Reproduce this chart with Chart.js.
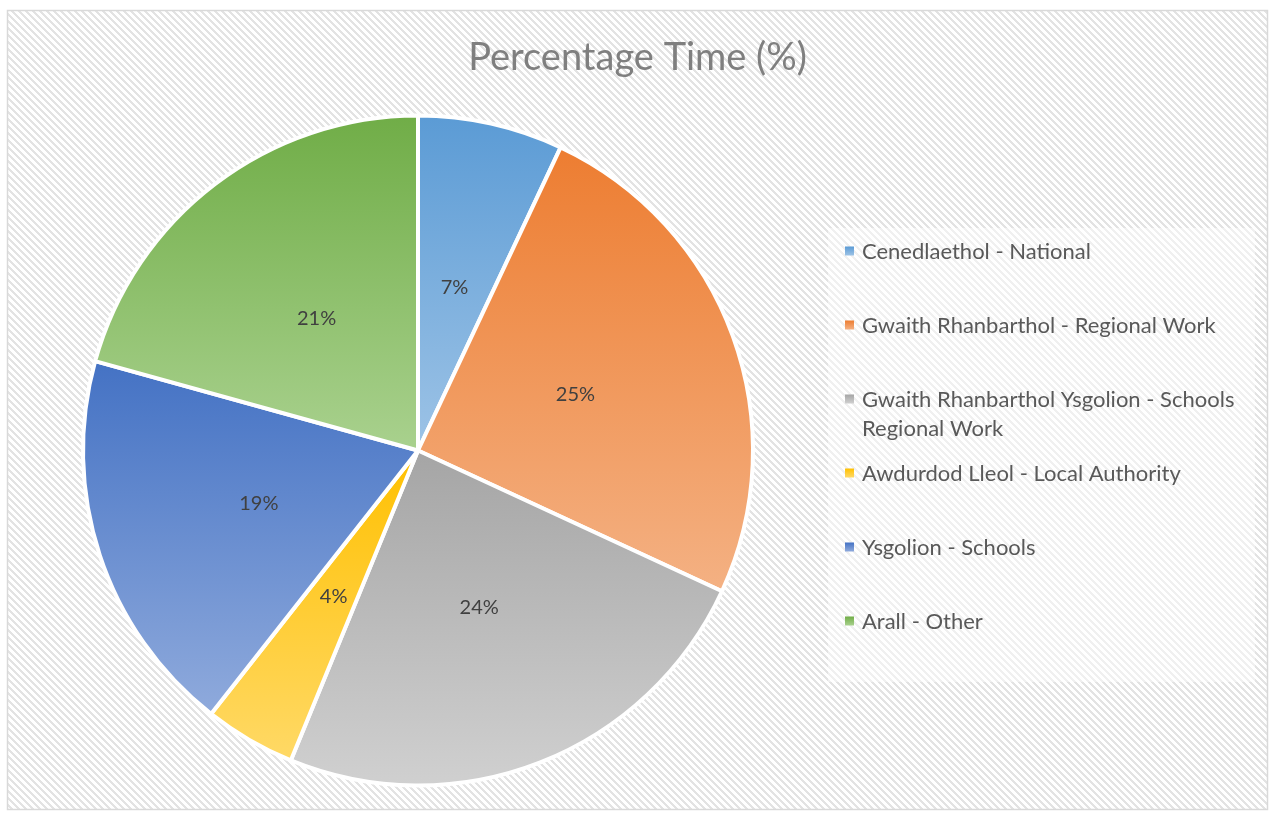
<!DOCTYPE html>
<html>
<head>
<meta charset="utf-8">
<script src="https://cdn.jsdelivr.net/npm/chart.js@4.4.1/dist/chart.umd.min.js"></script>
<style>
html,body{margin:0;padding:0;background:#fff;}
#wrap{width:1271px;height:814px;position:relative;}
</style>
</head>
<body>
<div id="wrap"><canvas id="c"></canvas></div>
<script>
// ---- data ----
const chartTitle = 'Percentage Time (%)';
const categories = [
  'Cenedlaethol - National',
  'Gwaith Rhanbarthol - Regional Work',
  'Gwaith Rhanbarthol Ysgolion - Schools Regional Work',
  'Awdurdod Lleol - Local Authority',
  'Ysgolion - Schools',
  'Arall - Other'
];
const values = [7.0, 24.9, 24.3, 4.4, 18.7, 20.7];
const topColors = ['#5B9BD5', '#ED7D31', '#A5A5A5', '#FFC000', '#4472C4', '#70AD47'];
const bottomColors = ['#9DC3E6', '#F4B183', '#D0D0D0', '#FFD966', '#8FAADC', '#A9D18E'];

const FONT = 'Lato, "Open Sans", sans-serif';

// ---- plugins ----
const bgPlugin = {
  id: 'bg',
  beforeDraw(chart) {
    const ctx = chart.ctx;
    ctx.save();
    ctx.fillStyle = '#ffffff';
    ctx.fillRect(0, 0, chart.width, chart.height);
    const n = 7;
    const p = document.createElement('canvas');
    p.width = n; p.height = n;
    const pc = p.getContext('2d');
    pc.fillStyle = '#ffffff'; pc.fillRect(0, 0, n, n);
    pc.fillStyle = '#e3e3e3';
    for (let y = 0; y < n; y++) for (let x = 0; x < n; x++) {
      if ((((x - y) % n) + n) % n < 3) pc.fillRect(x, y, 1, 1);
    }
    ctx.fillStyle = ctx.createPattern(p, 'repeat');
    ctx.fillRect(8, 11, 1259, 798);
    ctx.strokeStyle = '#d9d9d9';
    ctx.lineWidth = 1.5;
    ctx.strokeRect(7.5, 10.5, 1260, 799);
    // legend backdrop
    ctx.fillStyle = 'rgba(255,255,255,0.45)';
    ctx.fillRect(828, 228, 427, 454);
    // title, centred on the whole frame
    ctx.font = '38px ' + FONT;
    ctx.fillStyle = '#7f7f7f';
    ctx.textAlign = 'center';
    ctx.textBaseline = 'middle';
    ctx.fillText(chartTitle, chart.width / 2 + 2, 58);
    ctx.restore();
  }
};

const gradPlugin = {
  id: 'grad',
  beforeDatasetsDraw(chart) {
    const meta = chart.getDatasetMeta(0);
    meta.data.forEach((arc, i) => {
      const {x, y, startAngle, endAngle, outerRadius} =
        arc.getProps(['x', 'y', 'startAngle', 'endAngle', 'outerRadius'], true);
      let minY = y, maxY = y;
      const angs = [startAngle, endAngle];
      for (let k = -4; k <= 4; k++) {
        const a = Math.PI / 2 + k * Math.PI;
        if (a > startAngle && a < endAngle) angs.push(a);
      }
      angs.forEach(a => {
        const py = y + Math.sin(a) * outerRadius;
        minY = Math.min(minY, py); maxY = Math.max(maxY, py);
      });
      const g = chart.ctx.createLinearGradient(0, minY, 0, maxY);
      g.addColorStop(0, topColors[i]);
      g.addColorStop(1, bottomColors[i]);
      arc.options = Object.assign({}, arc.options, {backgroundColor: g});
    });
  }
};

const labelPlugin = {
  id: 'pctLabels',
  afterDatasetsDraw(chart) {
    const ctx = chart.ctx;
    const meta = chart.getDatasetMeta(0);
    const total = values.reduce((a, b) => a + b, 0);
    ctx.save();
    ctx.font = '20px ' + FONT;
    ctx.fillStyle = '#404040';
    ctx.textAlign = 'center';
    ctx.textBaseline = 'middle';
    meta.data.forEach((arc, i) => {
      const pt = arc.getCenterPoint();
      ctx.fillText(Math.round(values[i] / total * 100) + '%', pt.x, pt.y + 1);
    });
    ctx.restore();
  }
};

function wrapText(ctx, text, maxW) {
  const words = text.split(' ');
  const lines = [];
  let cur = '';
  words.forEach(w => {
    const test = cur ? cur + ' ' + w : w;
    if (ctx.measureText(test).width > maxW && cur) { lines.push(cur); cur = w; }
    else cur = test;
  });
  if (cur) lines.push(cur);
  return lines;
}

const legendPlugin = {
  id: 'sideLegend',
  afterDraw(chart) {
    const ctx = chart.ctx;
    ctx.save();
    ctx.font = '22px ' + FONT;
    ctx.textBaseline = 'middle';
    ctx.textAlign = 'left';
    let y = 251;
    categories.forEach((c, i) => {
      const g = ctx.createLinearGradient(0, y - 4.5, 0, y + 4.5);
      g.addColorStop(0, topColors[i]);
      g.addColorStop(1, bottomColors[i]);
      ctx.fillStyle = g;
      ctx.fillRect(845, y - 4.5, 9, 9);
      ctx.fillStyle = '#595959';
      const lines = wrapText(ctx, c, 385);
      lines.forEach((ln, k) => ctx.fillText(ln, 862, y + 1 + k * 29));
      y += 74;
    });
    ctx.restore();
  }
};

new Chart(document.getElementById('c'), {
  type: 'pie',
  data: {
    labels: categories,
    datasets: [{
      data: values,
      backgroundColor: topColors,
      borderColor: '#ffffff',
      borderWidth: 4,
      hoverOffset: 0,
      offset: 0
    }]
  },
  options: {
    responsive: true,
    maintainAspectRatio: false,
    animation: false,
    events: [],
    layout: {padding: {left: 81, right: 516, top: 113, bottom: 26}},
    plugins: {
      legend: {display: false},
      tooltip: {enabled: false},
      title: {display: false}
    }
  },
  plugins: [bgPlugin, gradPlugin, labelPlugin, legendPlugin]
});
</script>
</body>
</html>
